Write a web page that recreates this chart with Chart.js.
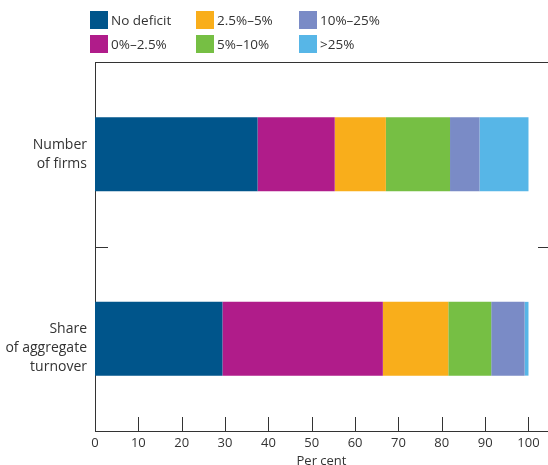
<!DOCTYPE html>
<html>
<head>
<meta charset="utf-8">
<script src="https://cdn.jsdelivr.net/npm/chart.js@4.4.0/dist/chart.umd.min.js"></script>
<style>
  body { margin: 0; background: #fff; }
  #wrap { position: relative; width: 548px; height: 465px; }
  #legend { position: absolute; left: 90px; top: 11px; display: grid;
    grid-template-columns: 106px 103px 120px; row-gap: 6px;
    font-family: 'Open Sans', sans-serif; font-size: 13.5px; color: #333; }
  .item { display: flex; align-items: center; height: 18px; white-space: nowrap; }
  .box { width: 18px; height: 18px; margin-right: 3px; flex: none; }
</style>
</head>
<body>
<div id="wrap">
  <canvas id="chart" width="548" height="465"></canvas>
  <div id="legend"></div>
</div>
<script>
const categories = [['Number', 'of firms'], ['Share', 'of aggregate', 'turnover']];
const seriesNames = ['No deficit', '0%\u20132.5%', '2.5%\u20135%', '5%\u201310%', '10%\u201325%', '>25%'];
const seriesColors = ['#00558b', '#b01c8a', '#f9ae1b', '#76bf44', '#7a8bc6', '#57b6e7'];
const noDeficit = [37.5, 29.4];
const upTo2_5 = [17.8, 37.0];
const upTo5 = [11.8, 15.1];
const upTo10 = [14.8, 9.9];
const upTo25 = [6.8, 7.7];
const over25 = [11.3, 0.9];
const xTicks = [0, 10, 20, 30, 40, 50, 60, 70, 80, 90, 100];

const seriesValues = [noDeficit, upTo2_5, upTo5, upTo10, upTo25, over25];

// legend laid out in columns like the original (filled column by column)
const legendEl = document.getElementById('legend');
const order = [0, 2, 4, 1, 3, 5];
order.forEach((i) => {
  const div = document.createElement('div');
  div.className = 'item';
  div.innerHTML = '<span class="box" style="background:' + seriesColors[i] + '"></span>' + seriesNames[i];
  legendEl.appendChild(div);
});

const frame = {
  id: 'frame',
  afterDraw(chart) {
    const ctx = chart.ctx;
    const a = chart.chartArea;
    const x = chart.scales.x;
    const y = chart.scales.y;
    ctx.save();
    ctx.strokeStyle = '#333';
    ctx.lineWidth = 1;
    ctx.beginPath();
    // top border
    ctx.moveTo(a.left, a.top + 0.5);
    ctx.lineTo(a.right, a.top + 0.5);
    // inward ticks on the x axis
    xTicks.forEach((v) => {
      if (v === 0) return;
      const px = Math.round(x.getPixelForValue(v)) + 0.5;
      ctx.moveTo(px, a.bottom);
      ctx.lineTo(px, a.bottom - 14);
    });
    // category separator ticks
    const mid = Math.round((y.getPixelForValue(0) + y.getPixelForValue(1)) / 2) + 0.5;
    ctx.moveTo(a.left, mid);
    ctx.lineTo(a.left + 13, mid);
    ctx.moveTo(a.right - 10, mid);
    ctx.lineTo(a.right, mid);
    ctx.stroke();
    ctx.restore();
  }
};

new Chart(document.getElementById('chart'), {
  type: 'bar',
  data: {
    labels: categories,
    datasets: seriesValues.map((vals, i) => ({
      label: seriesNames[i],
      data: vals,
      backgroundColor: seriesColors[i],
      borderWidth: 0,
      categoryPercentage: 1,
      barPercentage: 0.4
    }))
  },
  options: {
    indexAxis: 'y',
    responsive: false,
    animation: false,
    layout: { padding: { top: 62, right: 0, left: 0, bottom: 0 } },
    plugins: { legend: { display: false }, tooltip: { enabled: false } },
    scales: {
      x: {
        stacked: true,
        min: 0,
        max: 104.5,
        afterBuildTicks: (scale) => { scale.ticks = xTicks.map(v => ({ value: v })); },
        afterFit: (scale) => { scale.height = 34; },
        grid: { display: false, drawTicks: false },
        border: { display: true, color: '#333', width: 1 },
        ticks: { padding: 4, color: '#333', font: { family: 'Open Sans', size: 13 }, maxRotation: 0 },
        title: { display: true, text: 'Per cent', color: '#333', padding: { top: 0, bottom: -4 },
          font: { family: 'Open Sans', size: 13 } }
      },
      y: {
        stacked: true,
        afterFit: (scale) => { scale.width = 95; },
        grid: { display: false, drawTicks: false },
        border: { display: true, color: '#333', width: 1 },
        ticks: {
          padding: 8, color: '#333', font: { family: 'Open Sans', size: 14, lineHeight: 1.35 },
          // the original hangs each label from its first line, so pad longer labels at the top
          callback: function (v) {
            const lines = this.getLabelForValue(v);
            return lines.length > 2 ? [''].concat(lines) : lines;
          }
        }
      }
    }
  },
  plugins: [frame]
});
</script>
</body>
</html>
